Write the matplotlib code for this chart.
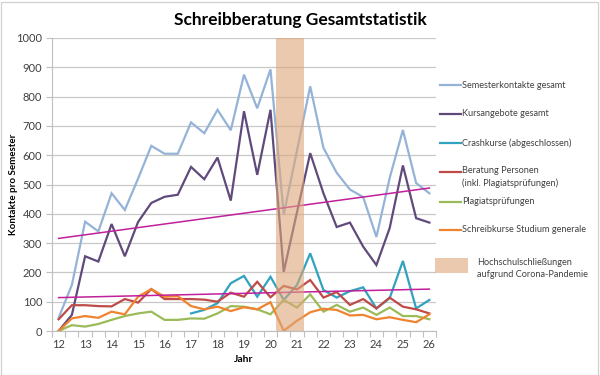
import matplotlib
matplotlib.use('Agg')
import matplotlib.pyplot as plt
from matplotlib.lines import Line2D
from matplotlib.patches import Rectangle

# Semester positions: 12, 12.5, ... 26 (winter/summer terms)
semesters = [12 + 0.5 * i for i in range(29)]

kontakte = [45, 157, 373, 340, 470, 413, 520, 632, 605, 605, 712, 675, 755, 685,
            875, 760, 893, 398, 615, 835, 625, 540, 483, 457, 321, 522, 686, 505, 470]
kursangebote = [0, 55, 255, 237, 365, 255, 372, 437, 458, 465, 560, 518, 592, 445,
                750, 533, 755, 202, 405, 607, 470, 355, 370, 288, 225, 351, 565, 385, 370]
crash_sem = semesters[10:]
crashkurse = [60, 72, 95, 163, 188, 117, 185, 106, 157, 265, 140, 114, 136, 149,
              77, 112, 239, 77, 106]
beratung = [40, 88, 88, 85, 84, 109, 97, 143, 109, 109, 109, 107, 100, 131,
            117, 168, 115, 154, 142, 174, 114, 133, 89, 109, 77, 114, 83, 74, 60]
plagiat = [0, 20, 15, 24, 38, 51, 60, 66, 38, 38, 43, 42, 60, 85,
           83, 74, 57, 106, 80, 125, 66, 89, 66, 80, 55, 80, 51, 51, 40]
schreibkurse = [0, 43, 51, 45, 66, 57, 117, 143, 117, 119, 85, 74, 83, 68,
                81, 74, 98, 1, 35, 64, 76, 72, 53, 55, 40, 47, 38, 30, 57]

# linear trend lines as drawn in the original (start / end values)
trend_x = [12, 26]
trend_upper = [316, 488]
trend_lower = [114, 143]

corona = (20.22, 21.28)

xticks = list(range(12, 27))
yticks = list(range(0, 1001, 100))

series = [
    ('Semesterkontakte gesamt', semesters, kontakte, '#95B3D7'),
    ('Kursangebote gesamt', semesters, kursangebote, '#604A7B'),
    ('Crashkurse (abgeschlossen)', crash_sem, crashkurse, '#31A2BF'),
    ('Beratung Personen\n(inkl. Plagiatsprüfungen)', semesters, beratung, '#BE4B48'),
    ('Plagiatsprüfungen', semesters, plagiat, '#9BBB59'),
    ('Schreibkurse Studium generale', semesters, schreibkurse, '#F0832F'),
]

BAND = '#DDA67A'
TEXT = '#404040'

plt.rcParams['font.family'] = ['Lato', 'DejaVu Sans']

fig = plt.figure(figsize=(6, 3.75), dpi=100)
ax = fig.add_axes([52 / 600, 1 - 331 / 375, 384 / 600, 293 / 375])

for label, xs, ys, color in series:
    ax.plot(xs, ys, color=color, lw=1.6, solid_joinstyle='miter', zorder=3)

ax.plot(trend_x, trend_upper, color='#C0209A', lw=1.1, zorder=4)
ax.plot(trend_x, trend_lower, color='#C0209A', lw=1.1, zorder=4)

ax.axvspan(corona[0], corona[1], color=BAND, alpha=0.6, lw=0, zorder=5)

ax.set_xlim(11.75, 26.25)
ax.set_ylim(0, 1000)
ax.set_xticks(xticks)
ax.set_xticklabels([str(t) for t in xticks], fontsize=8, color=TEXT)
ax.set_xticks([11.75 + 0.5 * i for i in range(30)], minor=True)
ax.set_yticks(yticks)
ax.set_yticklabels([str(t) for t in yticks], fontsize=8, color=TEXT)
ax.tick_params(axis='x', which='major', length=0, pad=6)
ax.tick_params(axis='x', which='minor', length=4, color='#BFBFBF', width=0.8)
ax.tick_params(axis='y', length=4, color='#BFBFBF', width=0.8, pad=3)
ax.grid(axis='y', color='#C8C8C8', lw=0.9, zorder=0)
ax.set_axisbelow(True)
for side in ['top', 'right']:
    ax.spines[side].set_visible(False)
ax.spines['left'].set_color('#BFBFBF')
ax.spines['bottom'].set_color('#BFBFBF')

ax.set_xlabel('Jahr', fontsize=7.5, fontweight='bold', labelpad=3)
ax.set_ylabel('Kontakte pro Semester', fontsize=7, fontweight='bold')
ax.yaxis.set_label_coords(-0.088, 0.5)

fig.text(0.5, 1 - 20 / 375, 'Schreibberatung Gesamtstatistik', ha='center',
         va='center', fontsize=12.5, fontweight='bold')

# legend drawn to the right, Excel-style
leg_rows = [85, 114, 143, 172, 202, 230]
for (label, xs, ys, color), y in zip(series, leg_rows):
    fy = 1 - y / 375
    fig.add_artist(Line2D([440 / 600, 461 / 600], [fy, fy], color=color, lw=1.6))
    if '\n' in label:
        fig.text(462 / 600, 1 - (y - 6) / 375, label, fontsize=6.6, va='top',
                 color=TEXT, linespacing=1.5)
    else:
        fig.text(462 / 600, fy, label, fontsize=6.6, va='center', color=TEXT)

fig.add_artist(Rectangle((435 / 600, 1 - 273 / 375), 33 / 600, 15 / 375,
                         transform=fig.transFigure, color=BAND, alpha=0.6, lw=0))
fig.text(477 / 600, 1 - 258 / 375, 'Hochschulschließungen\naufgrund Corona-Pandemie',
         fontsize=6.6, va='top', color=TEXT, linespacing=1.4)

fig.add_artist(Rectangle((0.5 / 600, 0.5 / 375), 597 / 600, 373 / 375,
                         transform=fig.transFigure, fill=False, ec='#D0D0D0', lw=0.9))

fig.savefig('out.png', dpi=100)
